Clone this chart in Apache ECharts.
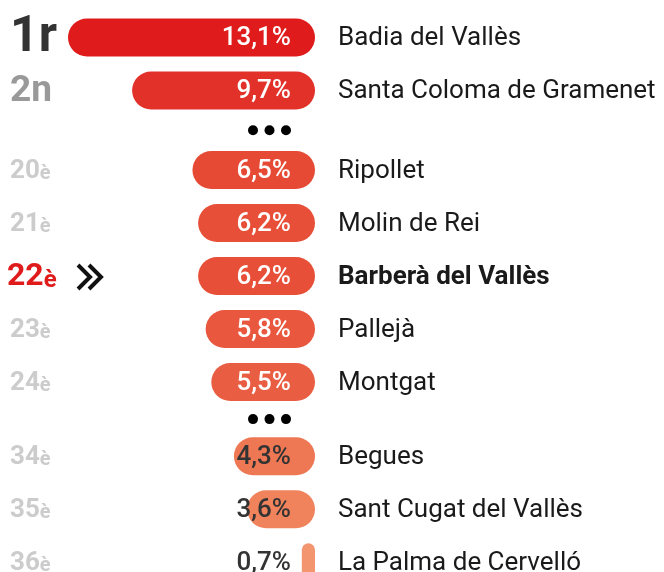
<!DOCTYPE html>
<html>
<head>
<meta charset="utf-8">
<script src="https://cdn.jsdelivr.net/npm/echarts@6/dist/echarts.min.js"></script>
<style>
  html, body { margin: 0; padding: 0; background: #fff; }
  #chart { width: 664px; height: 572px; }
</style>
</head>
<body>
<div id="chart"></div>
<script>
const ranks = ['1r', '2n', '20è', '21è', '22è', '23è', '24è', '34è', '35è', '36è'];
const towns = [
  'Badia del Vallès', 'Santa Coloma de Gramenet', 'Ripollet', 'Molin de Rei',
  'Barberà del Vallès', 'Pallejà', 'Montgat', 'Begues', 'Sant Cugat del Vallès',
  'La Palma de Cervelló'
];
const shares = [13.1, 9.7, 6.5, 6.2, 6.2, 5.8, 5.5, 4.3, 3.6, 0.7];
// row slots on the vertical axis (gaps where rankings are skipped)
const rowPos = [0, 1, 2.5, 3.5, 4.5, 5.5, 6.5, 7.9, 8.9, 9.9];
const gapPos = [1.75, 7.2];
const highlightTown = 'Barberà del Vallès';

const FONT = 'Roboto, "Noto Sans", sans-serif';
const BAR_H = 38;

const chart = echarts.init(document.getElementById('chart'));

const rankStyle = (i) => {
  if (towns[i] === highlightTown) return { n: 32, s: 24, color: '#e01b1b' };
  if (i === 0) return { n: 50, s: 50, color: '#333333' };
  if (i === 1) return { n: 37, s: 37, color: '#999999' };
  return { n: 26, s: 20, color: '#cccccc' };
};

const fmt = (v) => v.toFixed(1).replace('.', ',') + '%';

const option = {
  animation: false,
  grid: { left: 68, right: 349, top: 11, bottom: 4.5 },
  xAxis: { type: 'value', inverse: true, min: 0, max: 13.1, show: false },
  yAxis: { type: 'value', inverse: true, min: -0.5, max: 10, show: false },
  visualMap: {
    show: false,
    seriesIndex: 0,
    dimension: 0,
    min: 0.7,
    max: 13.1,
    inRange: { color: ['#f3966f', '#f0825b', '#e4402e', '#e22f29', '#e01b1b'] }
  },
  series: [
    {
      type: 'custom',
      data: shares.map((v, i) => [v, rowPos[i]]),
      renderItem: (params, api) => {
        const i = params.dataIndex;
        const v = api.value(0);
        const base = api.coord([0, api.value(1)]);
        const end = api.coord([v, api.value(1)]);
        const w = base[0] - end[0];
        const cy = base[1];
        const rs = rankStyle(i);
        const m = ranks[i].match(/^(\d+)(.*)$/);
        const isHi = towns[i] === highlightTown;
        const tok = (size) => ({
          fontFamily: FONT, fontSize: size, fontWeight: 'bold', fill: rs.color,
          lineHeight: size, verticalAlign: 'bottom'
        });
        const children = [
          {
            type: 'rect',
            shape: { x: end[0], y: cy - BAR_H / 2, width: w, height: BAR_H, r: Math.min(BAR_H / 2, w / 2) },
            style: { fill: api.visual('color') }
          },
          {
            type: 'text',
            style: {
              text: fmt(v), x: base[0] - 24, y: cy + 1, align: 'right', verticalAlign: 'middle',
              fontFamily: FONT, fontSize: 26, fontWeight: 500,
              fill: v < 5 ? '#333333' : '#ffffff'
            }
          },
          {
            type: 'text',
            style: {
              text: '{n|' + m[1] + '}{s|' + m[2] + '}',
              x: isHi ? 7 : 10, y: cy + 1, align: 'left', verticalAlign: 'middle',
              rich: { n: tok(rs.n), s: tok(rs.s) }
            }
          },
          {
            type: 'text',
            style: {
              text: towns[i], x: base[0] + 23, y: cy + 1, align: 'left', verticalAlign: 'middle',
              fontFamily: FONT, fontSize: 26, fontWeight: isHi ? 'bold' : 'normal',
              fill: '#1a1a1a'
            }
          }
        ];
        if (isHi) {
          [0, 11].forEach((dx) => {
            children.push({
              type: 'polyline',
              shape: { points: [[78 + dx, cy - 11], [90 + dx, cy + 1], [78 + dx, cy + 13]] },
              style: { stroke: '#111111', lineWidth: 4, fill: null }
            });
          });
        }
        return { type: 'group', children };
      }
    },
    {
      type: 'custom',
      data: gapPos.map((p) => [0, p]),
      renderItem: (params, api) => {
        const base = api.coord([0, api.value(1)]);
        return {
          type: 'group',
          children: [0, 1, 2].map((k) => ({
            type: 'circle',
            shape: { cx: base[0] - 29 - k * 16.5, cy: base[1], r: 5 },
            style: { fill: '#000000' }
          }))
        };
      }
    }
  ]
};

chart.setOption(option);
window.addEventListener('resize', () => chart.resize());
</script>
</body>
</html>
